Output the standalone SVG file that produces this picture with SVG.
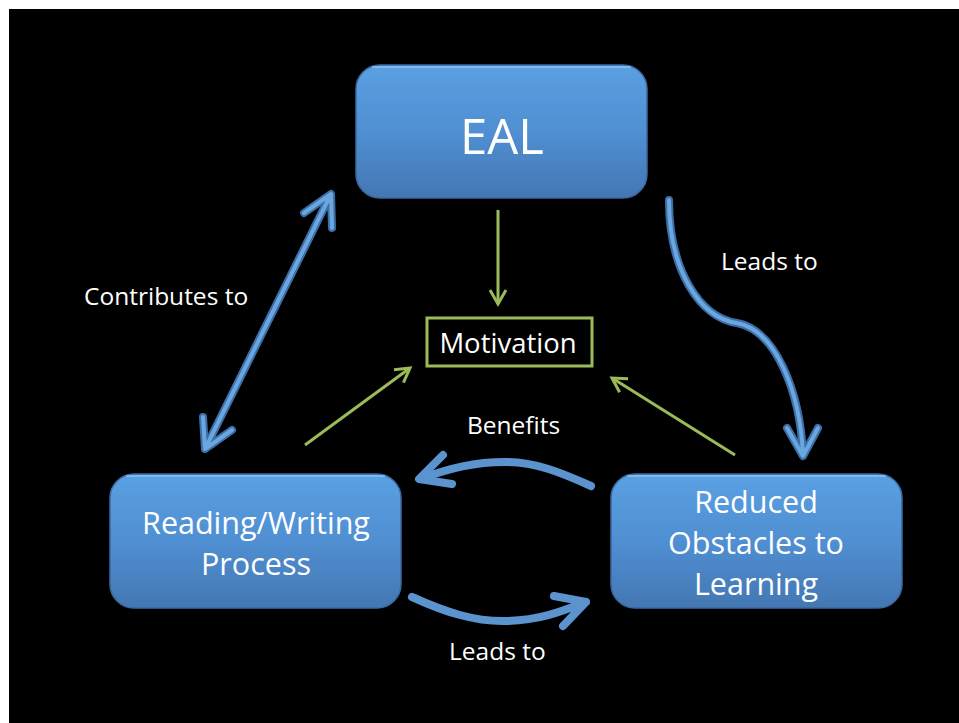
<svg xmlns="http://www.w3.org/2000/svg" width="959" height="723" viewBox="0 0 959 723">
<defs>
<linearGradient id="boxg" x1="0" y1="0" x2="0" y2="1">
<stop offset="0" stop-color="#5aa0e2"/>
<stop offset="0.5" stop-color="#4f8fd2"/>
<stop offset="1" stop-color="#4477b3"/>
</linearGradient>
<marker id="gh" viewBox="0 0 20 20" refX="16" refY="10" markerWidth="20" markerHeight="20" markerUnits="userSpaceOnUse" orient="auto">
<path d="M2,2 L16,10 L2,18" fill="none" stroke="#9bbb59" stroke-width="3"/>
</marker>
<style>
.box{fill:url(#boxg);stroke:#3a6aa0;stroke-width:1.5}
.hl{fill:none;stroke:#8cc4f5;stroke-width:2;opacity:0.7}
.bt{font-family:"Open Sans","Liberation Sans",sans-serif;fill:#ffffff;text-anchor:middle}
.lbl{font-family:"Open Sans","Liberation Sans",sans-serif;fill:#ffffff;font-size:24.5px}
.g{fill:none;stroke:#9bbb59;stroke-width:3;marker-end:url(#gh)}
.bo{fill:none;stroke:#3d6ea6;stroke-width:8;stroke-linecap:round;stroke-linejoin:round}
.bi{fill:none;stroke:#6aa6e0;stroke-width:4;stroke-linecap:round;stroke-linejoin:round}
.bf{fill:none;stroke:#5b93cf;stroke-width:8;stroke-linecap:round;stroke-linejoin:round}
</style>
</defs>
<rect x="0" y="0" width="959" height="723" fill="#ffffff"/>
<rect x="9" y="9" width="950" height="714" fill="#000000"/>

<g id="connectors">
<line class="g" x1="498" y1="210" x2="498" y2="304"/>
<line class="g" x1="305" y1="445" x2="410" y2="368"/>
<line class="g" x1="735" y1="455" x2="612" y2="378"/>

<g id="dbl">
<path class="bo" d="M330,196 L206,447 M304,213 L331,194 L332,228 M203,417 L205,449 L232,430"/>
<path class="bi" d="M330,196 L206,447 M304,213 L331,194 L332,228 M203,417 L205,449 L232,430"/>
</g>
<g id="scurve">
<path class="bo" d="M669,200 C669,270 700,318 737,323 C775,330 800,390 803,455 M787,428 L803,456 L818,428"/>
<path class="bi" d="M669,200 C669,270 700,318 737,323 C775,330 800,390 803,455 M787,428 L803,456 L818,428"/>
</g>
<path class="bf" d="M591,486 C560,472 535,462 505,462 C475,462 450,468 420,479 M443,455 L419,479 L452,484"/>
<path class="bf" d="M412,597 C445,612 475,622 507,621 C540,620 560,612 586,602 M554,596 L586,602 L563,626"/>
</g>

<g id="eal">
<rect class="box" x="356" y="65" width="291" height="133" rx="24"/>
<path class="hl" d="M372,67 L631,67"/>
<text class="bt" x="502" y="154" font-size="49">EAL</text>
</g>

<g id="reading">
<rect class="box" x="110" y="474" width="291" height="134" rx="24"/>
<path class="hl" d="M126,476 L385,476"/>
<text class="bt" x="256" y="534" font-size="30.5">Reading/Writing</text>
<text class="bt" x="256" y="575" font-size="30.5">Process</text>
</g>

<g id="reduced">
<rect class="box" x="611" y="474" width="291" height="134" rx="24"/>
<path class="hl" d="M627,476 L886,476"/>
<text class="bt" x="756" y="513" font-size="30.5">Reduced</text>
<text class="bt" x="756" y="554" font-size="30.5">Obstacles to</text>
<text class="bt" x="756" y="595" font-size="30.5">Learning</text>
</g>

<g id="motivation">
<rect x="427" y="318" width="165" height="48" fill="none" stroke="#9bbb59" stroke-width="3"/>
<text class="bt" x="508" y="353" font-size="27.5">Motivation</text>
</g>

<g id="labels">
<text class="lbl" x="84" y="305">Contributes to</text>
<text class="lbl" x="721" y="270">Leads to</text>
<text class="lbl" x="467" y="434">Benefits</text>
<text class="lbl" x="449" y="660">Leads to</text>
</g>
</svg>
